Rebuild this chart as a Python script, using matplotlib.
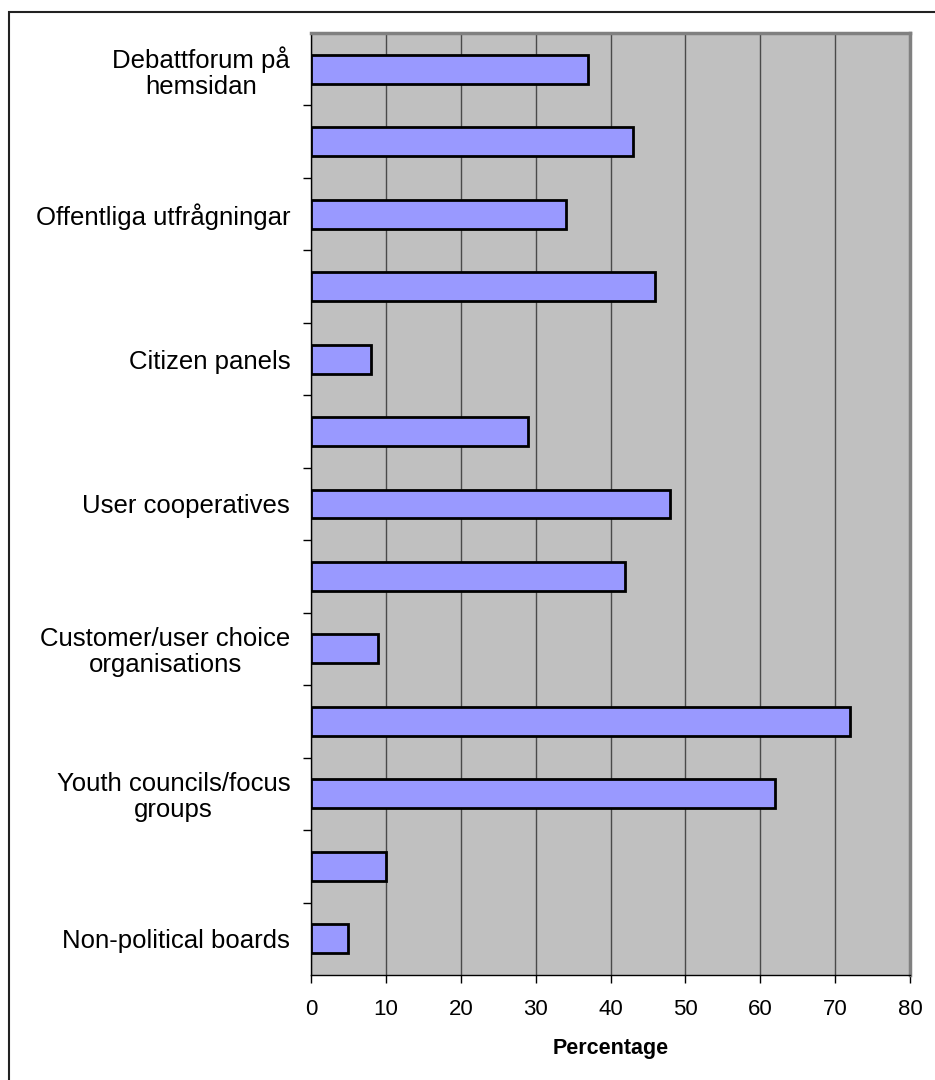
import matplotlib.pyplot as plt
from matplotlib.patches import Rectangle
import numpy as np

plt.rcParams['font.family'] = ['Liberation Sans', 'DejaVu Sans']

# every other category label is hidden on the axis, as in the original report
categories = ['Debattforum på\nhemsidan', '', 'Offentliga utfrågningar', '',
              'Citizen panels', '', 'User cooperatives', '',
              'Customer/user choice\norganisations', '',
              'Youth councils/focus\ngroups', '', 'Non-political boards']
values = [37, 43, 34, 46, 8, 29, 48, 42, 9, 72, 62, 10, 5]
x_ticks = [0, 10, 20, 30, 40, 50, 60, 70, 80]


def plot_bars():
    fig = plt.figure(figsize=(9.35, 10.8), dpi=100)
    # chart frame; right and bottom edges run off the page
    fig.patches.append(Rectangle((8.5 / 935, -20 / 1080), 960 / 935, 1088 / 1080,
                                 transform=fig.transFigure, fill=False,
                                 edgecolor='#222222', linewidth=1.5))
    ax = fig.add_axes([311 / 935, 105 / 1080, 599 / 935, 942 / 1080])
    ax.set_facecolor('#C0C0C0')

    y = np.arange(len(values))
    ax.barh(y, values, height=0.4, color='#9999FF', edgecolor='black',
            linewidth=2, zorder=3)

    ax.set_xlim(0, 80)
    ax.set_ylim(len(values) - 0.5, -0.5)
    ax.set_xticks(x_ticks)
    ax.tick_params(axis='x', labelsize=16, length=6, width=1, pad=11,
                   direction='out')
    ax.grid(axis='x', color='#4a4a4a', linewidth=1, zorder=1)

    ax.set_yticks(y)
    ax.set_yticklabels(categories, multialignment='center', linespacing=1.1)
    ax.tick_params(axis='y', which='major', length=0, labelsize=18.5, pad=15)
    ax.set_yticks(np.arange(0.5, len(values) - 0.5, 1), minor=True)
    ax.tick_params(axis='y', which='minor', length=6, width=1, direction='out')

    for side in ['top', 'right']:
        ax.spines[side].set_color('#808080')
        ax.spines[side].set_linewidth(2.5)
    for side in ['left', 'bottom']:
        ax.spines[side].set_color('black')
        ax.spines[side].set_linewidth(1)

    ax.set_xlabel('Percentage', fontsize=15.5, fontweight='bold', labelpad=13)
    fig.savefig('out.png', dpi=100, facecolor='white')


plot_bars()
